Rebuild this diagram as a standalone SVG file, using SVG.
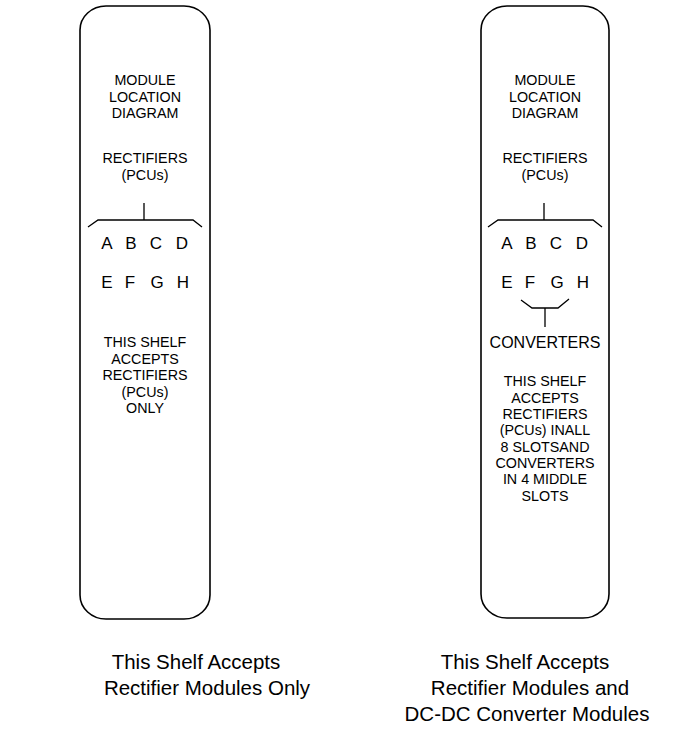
<svg xmlns="http://www.w3.org/2000/svg" width="699" height="735" viewBox="0 0 699 735">
<style>
.shelf{fill:#fff;stroke:#000;stroke-width:1.6}
.t{font-family:"Liberation Sans",Arial,sans-serif;font-size:14.3px;text-anchor:middle;fill:#000}
.l{font-family:"Liberation Sans",Arial,sans-serif;font-size:17px;text-anchor:middle;fill:#000}
.cap{font-family:"Liberation Sans",Arial,sans-serif;font-size:20.5px;text-anchor:middle;fill:#000}
.ln{fill:none;stroke:#000;stroke-width:1.3}
</style>
<rect width="699" height="735" fill="#fff"/>
<g id="shelf-left">
<rect class="shelf" x="80" y="6" width="130" height="613" rx="26" ry="24"/>
<text class="t"><tspan x="145" y="85">MODULE</tspan><tspan x="145" y="101.5">LOCATION</tspan><tspan x="145" y="118">DIAGRAM</tspan></text>
<text class="t"><tspan x="145" y="163">RECTIFIERS</tspan><tspan x="145" y="179.5">(PCUs)</tspan></text>
<text class="t"><tspan x="145" y="347">THIS SHELF</tspan><tspan x="145" y="363.5">ACCEPTS</tspan><tspan x="145" y="380">RECTIFIERS</tspan><tspan x="145" y="396.5">(PCUs)</tspan><tspan x="145" y="413">ONLY</tspan></text>
<text class="l" x="107" y="249">A</text>
<text class="l" x="131" y="249">B</text>
<text class="l" x="156" y="249">C</text>
<text class="l" x="182" y="249">D</text>
<text class="l" x="107" y="288">E</text>
<text class="l" x="130" y="288">F</text>
<text class="l" x="157" y="288">G</text>
<text class="l" x="183" y="288">H</text>
</g>
<g id="shelf-right">
<rect class="shelf" x="481" y="6" width="128" height="612" rx="26" ry="24"/>
<text class="t"><tspan x="545" y="85">MODULE</tspan><tspan x="545" y="101.5">LOCATION</tspan><tspan x="545" y="118">DIAGRAM</tspan></text>
<text class="t"><tspan x="545" y="163">RECTIFIERS</tspan><tspan x="545" y="179.5">(PCUs)</tspan></text>
<text class="t" x="545" y="348" style="font-size:16px">CONVERTERS</text>
<text class="t"><tspan x="545" y="386">THIS SHELF</tspan><tspan x="545" y="402.5">ACCEPTS</tspan><tspan x="545" y="419">RECTIFIERS</tspan><tspan x="545" y="435">(PCUs) INALL</tspan><tspan x="545" y="451.5">8 SLOTSAND</tspan><tspan x="545" y="468">CONVERTERS</tspan><tspan x="545" y="484">IN 4 MIDDLE</tspan><tspan x="545" y="500.5">SLOTS</tspan></text>
<text class="l" x="507" y="249">A</text>
<text class="l" x="531" y="249">B</text>
<text class="l" x="556" y="249">C</text>
<text class="l" x="582" y="249">D</text>
<text class="l" x="507" y="288">E</text>
<text class="l" x="530" y="288">F</text>
<text class="l" x="557" y="288">G</text>
<text class="l" x="583" y="288">H</text>
</g>
<g id="connectors">
<path class="ln" d="M144 203V220M88 227L98 220H193L202 227"/>
<path class="ln" d="M544 203V220M488 227L498 220H593L602 227"/>
<path class="ln" d="M521 300L532 308H558L569 299M545 308V327"/>
</g>
<g id="caption-left">
<text class="cap"><tspan x="196" y="669">This Shelf Accepts</tspan><tspan x="207" y="695">Rectifier Modules Only</tspan></text>
</g>
<g id="caption-right">
<text class="cap"><tspan x="525" y="669">This Shelf Accepts</tspan><tspan x="530" y="695">Rectifier Modules and</tspan><tspan x="527" y="721">DC-DC Converter Modules</tspan></text>
</g>
</svg>
